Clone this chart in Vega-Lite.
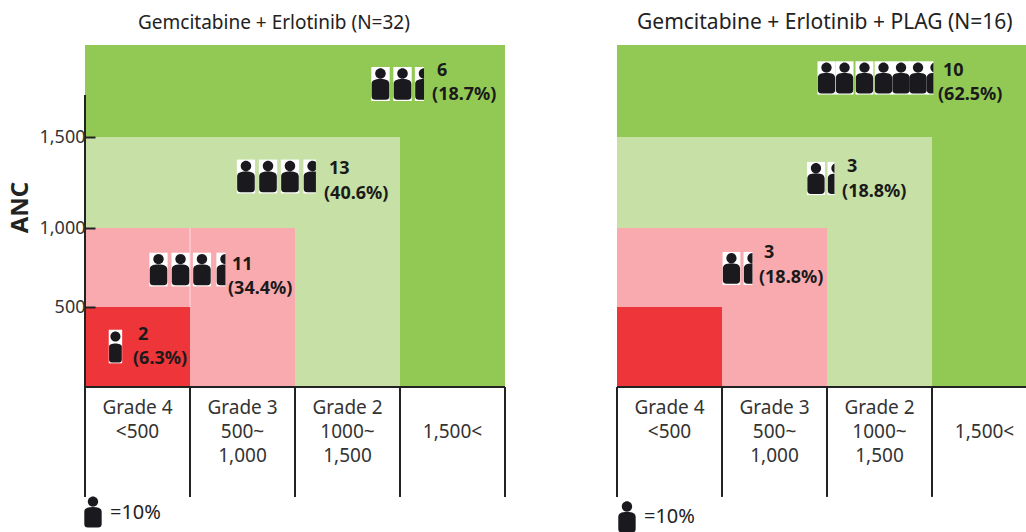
{
"$schema":"https://vega.github.io/schema/vega-lite/v6.json",
"background":"white",
"padding":{"left":8,"top":12,"right":0,"bottom":0},
"spacing":110,
"config":{"view":{"stroke":null},"font":"Noto Sans"},
"datasets":{
"zones":[
{"zone":"1,500<","x0":0,"x1":4,"anc0":0,"anc1":2000},
{"zone":"Grade 2","x0":0,"x1":3,"anc0":0,"anc1":1500},
{"zone":"Grade 3","x0":0,"x1":2,"anc0":0,"anc1":1000},
{"zone":"Grade 4","x0":0,"x1":1,"anc0":0,"anc1":500}
],
"lines":[{"c":0},{"c":1},{"c":2},{"c":3},{"c":4}],
"table":[
{"c":0.5,"y":-131,"t":"Grade 4"},{"c":0.5,"y":-281,"t":"<500"},
{"c":1.5,"y":-131,"t":"Grade 3"},{"c":1.5,"y":-281,"t":"500~"},{"c":1.5,"y":-431,"t":"1,000"},
{"c":2.5,"y":-131,"t":"Grade 2"},{"c":2.5,"y":-281,"t":"1000~"},{"c":2.5,"y":-431,"t":"1,500"},
{"c":3.5,"y":-281,"t":"1,500<"}
],
"icons":[
{"p":1,"g":"g6","x":2.814,"y":1788,"s":"full"},{"p":1,"g":"g6","x":3.024,"y":1788,"s":"full"},{"p":1,"g":"g6","x":3.229,"y":1788,"s":"half"},
{"p":1,"g":"g13","x":1.533,"y":1283,"s":"full"},{"p":1,"g":"g13","x":1.743,"y":1283,"s":"full"},{"p":1,"g":"g13","x":1.952,"y":1283,"s":"full"},{"p":1,"g":"g13","x":2.167,"y":1283,"s":"wide"},
{"p":1,"g":"g11","x":0.7,"y":737,"s":"full"},{"p":1,"g":"g11","x":0.91,"y":737,"s":"full"},{"p":1,"g":"g11","x":1.114,"y":737,"s":"full"},{"p":1,"g":"g11","x":1.338,"y":737,"s":"half"},
{"p":1,"g":"g2","x":0.29,"y":253,"s":"slim"},
{"p":1,"g":"key","x":0.076,"y":-781,"s":"full"},
{"p":2,"g":"g10","x":1.995,"y":1821,"s":"full"},{"p":2,"g":"g10","x":2.167,"y":1821,"s":"full"},{"p":2,"g":"g10","x":2.357,"y":1821,"s":"full"},{"p":2,"g":"g10","x":2.538,"y":1821,"s":"full"},{"p":2,"g":"g10","x":2.705,"y":1821,"s":"full"},{"p":2,"g":"g10","x":2.867,"y":1821,"s":"full"},{"p":2,"g":"g10","x":3.033,"y":1821,"s":"narrow"},
{"p":2,"g":"g3a","x":1.895,"y":1272,"s":"full"},{"p":2,"g":"g3a","x":2.09,"y":1272,"s":"narrow"},
{"p":2,"g":"g3b","x":1.09,"y":744,"s":"full"},{"p":2,"g":"g3b","x":1.29,"y":744,"s":"half"},
{"p":2,"g":"key","x":0.095,"y":-812,"s":"full"}
],
"notes":[
{"p":1,"x":3.352,"y":1859,"t":"6"},{"p":1,"x":3.305,"y":1728,"t":"(18.7%)"},
{"p":1,"x":2.324,"y":1324,"t":"13"},{"p":1,"x":2.276,"y":1187,"t":"(40.6%)"},
{"p":1,"x":1.4,"y":766,"t":"11"},{"p":1,"x":1.362,"y":614,"t":"(34.4%)"},
{"p":1,"x":0.505,"y":325,"t":"2"},{"p":1,"x":0.457,"y":175,"t":"(6.3%)"},
{"p":2,"x":3.105,"y":1859,"t":"10"},{"p":2,"x":3.057,"y":1728,"t":"(62.5%)"},
{"p":2,"x":2.19,"y":1335,"t":"3"},{"p":2,"x":2.143,"y":1198,"t":"(18.8%)"},
{"p":2,"x":1.4,"y":842,"t":"3"},{"p":2,"x":1.352,"y":684,"t":"(18.8%)"}
],
"keys":[{"p":1,"x":0.238,"y":-788,"t":"=10%"},{"p":2,"x":0.257,"y":-812,"t":"=10%"}]
},
"hconcat":[
{"width":420,"height":486,
"title":{"text":"Gemcitabine + Erlotinib (N=32)","anchor":"start","frame":"group","dx":53,"fontSize":19,"fontWeight":"normal","color":"#222","offset":12},
"resolve":{"scale":{"shape":"independent"}},
"layer":[
{"data":{"name":"zones"},"mark":{"type":"rect","clip":true},
"encoding":{"x":{"field":"x0","type":"quantitative","scale":{"domain":[0,4],"clamp":true,"nice":false},"axis":null},"x2":{"field":"x1"},
"y":{"field":"anc0","type":"quantitative","scale":{"domain":[-900,0,500,1000,1500,2000],"range":[486,342,262,183,92,0],"nice":false},
"axis":{"values":[500,1000,1500],"format":",d","grid":false,"domain":false,"zindex":1,"tickSize":-10,"tickWidth":2,"tickColor":"#222","labelFontSize":18,"labelColor":"#333","labelPadding":10,"title":"ANC","titleFontSize":24,"titleFontWeight":"bold","titleColor":"#222","titleX":-53,"titleY":162}},
"y2":{"field":"anc1"},
"color":{"field":"zone","type":"nominal","scale":{"domain":["Grade 4","Grade 3","Grade 2","1,500<"],"range":["#EE3539","#F9AAAF","#C6E0A5","#92C954"]},"legend":null}}},
{"data":{"values":[{"x":0,"a":0,"b":1728}]},"mark":{"type":"rule","color":"#222","strokeWidth":2},
"encoding":{"x":{"field":"x","type":"quantitative"},"y":{"field":"a","type":"quantitative"},"y2":{"field":"b"}}},
{"data":{"values":[{"x":1,"a":500,"b":1000}]},"mark":{"type":"rule","color":"white","strokeWidth":1,"opacity":0.6},
"encoding":{"x":{"field":"x","type":"quantitative"},"y":{"field":"a","type":"quantitative"},"y2":{"field":"b"}}},
{"data":{"name":"lines"},"mark":{"type":"rule","color":"#222","strokeWidth":2},
"encoding":{"x":{"field":"c","type":"quantitative"},"y":{"datum":0,"type":"quantitative"},"y2":{"datum":-687}}},
{"data":{"values":[{"a":0,"b":4}]},"mark":{"type":"rule","color":"#222","strokeWidth":2},
"encoding":{"x":{"field":"a","type":"quantitative"},"x2":{"field":"b"},"y":{"datum":0,"type":"quantitative"}}},
{"data":{"name":"table"},"mark":{"type":"text","fontSize":19,"color":"#333"},
"encoding":{"x":{"field":"c","type":"quantitative"},"y":{"field":"y","type":"quantitative"},"text":{"field":"t"}}},
{"data":{"name":"icons"},"transform":[{"filter":"datum.p==1 && datum.g!='key'"}],"mark":{"type":"point","filled":true,"opacity":1,"strokeWidth":0,"color":"white"},
"encoding":{"x":{"field":"x","type":"quantitative"},"y":{"field":"y","type":"quantitative"},
"shape":{"field":"s","type":"nominal","legend":null,"scale":{"domain":["full","half","wide","narrow","slim"],"range":["M-0.54,-1L0.54,-1L0.54,1L-0.54,1Z","M-0.54,-1L0,-1L0,1L-0.54,1Z","M-0.54,-1L0.2,-1L0.2,1L-0.54,1Z","M-0.54,-1L-0.12,-1L-0.12,1L-0.54,1Z","M-0.4,-1L0.4,-1L0.4,1L-0.4,1Z"]}},
"size":{"field":"g","type":"nominal","legend":null,"scale":{"domain":["g6","g13","g11","g2","key"],"range":[1156,1089,1225,1444,900]}}}},
{"data":{"name":"icons"},"transform":[{"filter":"datum.p==1"}],"mark":{"type":"point","filled":true,"opacity":1,"strokeWidth":0,"color":"#1A1A1E"},
"encoding":{"x":{"field":"x","type":"quantitative"},"y":{"field":"y","type":"quantitative"},
"shape":{"field":"s","type":"nominal","legend":null,"scale":{"domain":["full","half","wide","narrow","slim"],"range":[
"M-0.31,-0.62A0.31,0.31 0 1 1 0.31,-0.62A0.31,0.31 0 1 1 -0.31,-0.62ZM-0.52,0C-0.52,-0.22 -0.35,-0.3 0,-0.3C0.35,-0.3 0.52,-0.22 0.52,0L0.52,0.72Q0.52,0.93 0.3,0.93L-0.3,0.93Q-0.52,0.93 -0.52,0.72Z",
"M0,-0.93A0.31,0.31 0 0 0 0,-0.31ZM0,-0.3C-0.35,-0.3 -0.52,-0.22 -0.52,0L-0.52,0.72Q-0.52,0.93 -0.3,0.93L0,0.93Z",
"M0.2,-0.857A0.31,0.31 0 1 0 0.2,-0.383ZM0.2,-0.29L0,-0.3C-0.35,-0.3 -0.52,-0.22 -0.52,0L-0.52,0.72Q-0.52,0.93 -0.3,0.93L0.2,0.93Z",
"M-0.12,-0.906A0.31,0.31 0 0 0 -0.12,-0.334ZM-0.12,-0.29C-0.35,-0.29 -0.52,-0.22 -0.52,0L-0.52,0.72Q-0.52,0.93 -0.3,0.93L-0.12,0.93Z",
"M-0.3,-0.6A0.3,0.3 0 1 1 0.3,-0.6A0.3,0.3 0 1 1 -0.3,-0.6ZM-0.38,0C-0.38,-0.12 -0.2,-0.18 0,-0.18C0.2,-0.18 0.38,-0.12 0.38,0L0.38,0.78Q0.38,0.95 0.22,0.95L-0.22,0.95Q-0.38,0.95 -0.38,0.78Z"]}},
"size":{"field":"g","type":"nominal","legend":null,"scale":{"domain":["g6","g13","g11","g2","key"],"range":[1156,1089,1225,1444,900]}}}},
{"data":{"name":"notes"},"transform":[{"filter":"datum.p==1"}],"mark":{"type":"text","align":"left","fontSize":18,"fontWeight":"bold","color":"#1A1A1A"},
"encoding":{"x":{"field":"x","type":"quantitative"},"y":{"field":"y","type":"quantitative"},"text":{"field":"t"}}},
{"data":{"name":"keys"},"transform":[{"filter":"datum.p==1"}],"mark":{"type":"text","align":"left","fontSize":20,"color":"#222"},
"encoding":{"x":{"field":"x","type":"quantitative"},"y":{"field":"y","type":"quantitative"},"text":{"field":"t"}}}
]},
{"width":409,"height":486,
"title":{"text":"Gemcitabine + Erlotinib + PLAG (N=16)","anchor":"start","frame":"group","dx":20,"fontSize":21,"fontWeight":"normal","color":"#222","offset":12},
"resolve":{"scale":{"shape":"independent"}},
"layer":[
{"data":{"name":"zones"},"mark":{"type":"rect","clip":true},
"encoding":{"x":{"field":"x0","type":"quantitative","scale":{"domain":[0,3.895],"clamp":true,"nice":false},"axis":null},"x2":{"field":"x1"},
"y":{"field":"anc0","type":"quantitative","scale":{"domain":[-900,0,500,1000,1500,2000],"range":[486,342,262,183,92,0],"nice":false},"axis":null},
"y2":{"field":"anc1"},
"color":{"field":"zone","type":"nominal","scale":{"domain":["Grade 4","Grade 3","Grade 2","1,500<"],"range":["#EE3539","#F9AAAF","#C6E0A5","#92C954"]},"legend":null}}},
{"data":{"name":"lines"},"transform":[{"filter":"datum.c<4"}],"mark":{"type":"rule","color":"#222","strokeWidth":2},
"encoding":{"x":{"field":"c","type":"quantitative"},"y":{"datum":0,"type":"quantitative"},"y2":{"datum":-687}}},
{"data":{"values":[{"a":0,"b":4}]},"mark":{"type":"rule","color":"#222","strokeWidth":2},
"encoding":{"x":{"field":"a","type":"quantitative"},"x2":{"field":"b"},"y":{"datum":0,"type":"quantitative"}}},
{"data":{"name":"table"},"mark":{"type":"text","fontSize":19,"color":"#333"},
"encoding":{"x":{"field":"c","type":"quantitative"},"y":{"field":"y","type":"quantitative"},"text":{"field":"t"}}},
{"data":{"name":"icons"},"transform":[{"filter":"datum.p==2 && datum.g!='key'"}],"mark":{"type":"point","filled":true,"opacity":1,"strokeWidth":0,"color":"white"},
"encoding":{"x":{"field":"x","type":"quantitative"},"y":{"field":"y","type":"quantitative"},
"shape":{"field":"s","type":"nominal","legend":null,"scale":{"domain":["full","half","wide","narrow","slim"],"range":["M-0.54,-1L0.54,-1L0.54,1L-0.54,1Z","M-0.54,-1L0,-1L0,1L-0.54,1Z","M-0.54,-1L0.2,-1L0.2,1L-0.54,1Z","M-0.54,-1L-0.12,-1L-0.12,1L-0.54,1Z","M-0.4,-1L0.4,-1L0.4,1L-0.4,1Z"]}},
"size":{"field":"g","type":"nominal","legend":null,"scale":{"domain":["g10","g3a","g3b","key"],"range":[961,1369,1225,900]}}}},
{"data":{"name":"icons"},"transform":[{"filter":"datum.p==2"}],"mark":{"type":"point","filled":true,"opacity":1,"strokeWidth":0,"color":"#1A1A1E"},
"encoding":{"x":{"field":"x","type":"quantitative"},"y":{"field":"y","type":"quantitative"},
"shape":{"field":"s","type":"nominal","legend":null,"scale":{"domain":["full","half","wide","narrow","slim"],"range":[
"M-0.31,-0.62A0.31,0.31 0 1 1 0.31,-0.62A0.31,0.31 0 1 1 -0.31,-0.62ZM-0.52,0C-0.52,-0.22 -0.35,-0.3 0,-0.3C0.35,-0.3 0.52,-0.22 0.52,0L0.52,0.72Q0.52,0.93 0.3,0.93L-0.3,0.93Q-0.52,0.93 -0.52,0.72Z",
"M0,-0.93A0.31,0.31 0 0 0 0,-0.31ZM0,-0.3C-0.35,-0.3 -0.52,-0.22 -0.52,0L-0.52,0.72Q-0.52,0.93 -0.3,0.93L0,0.93Z",
"M0.2,-0.857A0.31,0.31 0 1 0 0.2,-0.383ZM0.2,-0.29L0,-0.3C-0.35,-0.3 -0.52,-0.22 -0.52,0L-0.52,0.72Q-0.52,0.93 -0.3,0.93L0.2,0.93Z",
"M-0.12,-0.906A0.31,0.31 0 0 0 -0.12,-0.334ZM-0.12,-0.29C-0.35,-0.29 -0.52,-0.22 -0.52,0L-0.52,0.72Q-0.52,0.93 -0.3,0.93L-0.12,0.93Z",
"M-0.3,-0.6A0.3,0.3 0 1 1 0.3,-0.6A0.3,0.3 0 1 1 -0.3,-0.6ZM-0.38,0C-0.38,-0.12 -0.2,-0.18 0,-0.18C0.2,-0.18 0.38,-0.12 0.38,0L0.38,0.78Q0.38,0.95 0.22,0.95L-0.22,0.95Q-0.38,0.95 -0.38,0.78Z"]}},
"size":{"field":"g","type":"nominal","legend":null,"scale":{"domain":["g10","g3a","g3b","key"],"range":[961,1369,1225,900]}}}},
{"data":{"name":"notes"},"transform":[{"filter":"datum.p==2"}],"mark":{"type":"text","align":"left","fontSize":18,"fontWeight":"bold","color":"#1A1A1A"},
"encoding":{"x":{"field":"x","type":"quantitative"},"y":{"field":"y","type":"quantitative"},"text":{"field":"t"}}},
{"data":{"name":"keys"},"transform":[{"filter":"datum.p==2"}],"mark":{"type":"text","align":"left","fontSize":20,"color":"#222"},
"encoding":{"x":{"field":"x","type":"quantitative"},"y":{"field":"y","type":"quantitative"},"text":{"field":"t"}}}
]}
]
}
